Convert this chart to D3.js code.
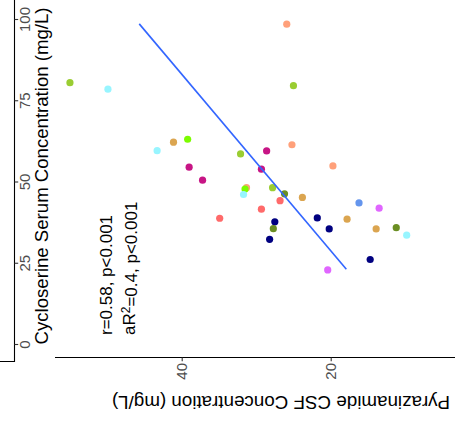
<!DOCTYPE html>
<html><head><meta charset="utf-8">
<script src="https://cdn.jsdelivr.net/npm/d3@7"></script>
<style>body{margin:0;background:#fff}svg{display:block}text{font-family:"Liberation Sans",Arial,sans-serif}</style>
</head><body><svg id="c" width="455" height="429"></svg>
<script>
// Pyrazinamide CSF concentration (mg/L)
const pzaCSF = [25.9,25.0,25.2,43.3,41.1,39.2,32.1,28.6,39.0,37.2,29.3,19.7,31.3,31.5,31.7,27.8,26.2,23.8,26.8,29.3,34.9,27.5,27.7,28.2,21.8,20.2,16.2,13.5,17.8,13.9,11.2,9.8,14.7,20.4,55.0,49.9];
// Cycloserine serum concentration (mg/L)
const csSerum = [98.4,79.5,61.3,59.5,62.1,63.0,58.5,59.4,54.4,50.4,53.8,54.8,48.1,47.7,46.0,48.1,46.2,45.1,44.1,41.5,38.7,37.6,35.5,32.2,38.8,35.4,43.4,41.8,38.4,35.4,35.8,33.5,26.0,22.8,80.4,78.4];
const pointColors = ["#FFA07A","#9ACD32","#FFA07A","#98F5FF","#DBA550","#7CFC00","#9ACD32","#C71585","#C71585","#C71585","#C71585","#FFA07A","#FFA07A","#7CFC00","#98F5FF","#9ACD32","#6B8E23","#DBA550","#FF6A6A","#FF6A6A","#FF6A6A","#000080","#6B8E23","#000080","#000080","#000080","#6495ED","#E066FF","#DBA550","#DBA550","#6B8E23","#98F5FF","#000080","#E066FF","#9ACD32","#98F5FF"];
const fitX = [45.7, 17.9];
const fitY = [98.5, 23.0];
const xTicks = [20, 40];
const yTicks = [0, 25, 50, 75, 100];
const annot1 = "r=0.58, p<0.001";

const svg = d3.select("#c");
const x = d3.scaleLinear().domain([20, 40]).range([330.7, 181.7]);
const y = d3.scaleLinear().domain([0, 100]).range([344, 19]);

// axis lines
svg.append("path").attr("d","M14.5,0V361.5H0").attr("fill","none").attr("stroke","#000").attr("stroke-width",1.1);
svg.append("path").attr("d","M55,357.5H455").attr("fill","none").attr("stroke","#000").attr("stroke-width",1.1);

// y axis
const ya = svg.append("g").attr("transform","translate(14.5,0)")
  .call(d3.axisRight(y).tickValues(yTicks).tickSize(3.7).tickFormat(d3.format("d")));
ya.select(".domain").remove();
ya.selectAll(".tick line").attr("stroke","#333").attr("stroke-width",1.1);
ya.selectAll(".tick text").attr("x",0).attr("y",0).attr("dy",0)
  .attr("transform","translate(15,0) rotate(-90)").attr("text-anchor","middle")
  .attr("fill","#4D4D4D").style("font-size","15px").style("font-family","Liberation Sans, Arial, sans-serif");

// x axis
const xa = svg.append("g").attr("transform","translate(0,357.5)")
  .call(d3.axisBottom(x).tickValues(xTicks).tickSize(3.7).tickFormat(d3.format("d")));
xa.select(".domain").remove();
xa.selectAll(".tick line").attr("stroke","#333").attr("stroke-width",1.1);
xa.selectAll(".tick text").attr("x",0).attr("y",0).attr("dy","0.35em")
  .attr("transform","translate(0,5.5) rotate(-90)").attr("text-anchor","end")
  .attr("fill","#4D4D4D").style("font-size","15px").style("font-family","Liberation Sans, Arial, sans-serif");

// points
svg.append("g").selectAll("circle").data(pzaCSF).join("circle")
  .attr("cx",(d)=>x(d)).attr("cy",(d,i)=>y(csSerum[i])).attr("r",3.6)
  .attr("fill",(d,i)=>pointColors[i]);

// fit line
svg.append("line").attr("x1",x(fitX[0])).attr("y1",y(fitY[0])).attr("x2",x(fitX[1])).attr("y2",y(fitY[1]))
  .attr("stroke","#3366FF").attr("stroke-width",1.6);

// titles
svg.append("text").attr("transform","translate(48,176) rotate(-90)").attr("text-anchor","middle")
  .style("font-size","18.6px").text("Cycloserine Serum Concentration (mg/L)");
svg.append("text").attr("transform","translate(281,395.5) rotate(180)").attr("text-anchor","middle")
  .style("font-size","18.8px").text("Pyrazinamide CSF Concentration (mg/L)");

// annotation
svg.append("text").attr("transform","translate(112,335) rotate(-90)").attr("text-anchor","start")
  .style("font-size","17px").text(annot1);
const t2 = svg.append("text").attr("transform","translate(135,335) rotate(-90)").attr("text-anchor","start")
  .style("font-size","17px");
t2.append("tspan").text("aR");
t2.append("tspan").attr("dy","-0.45em").style("font-size","12px").text("2");
t2.append("tspan").attr("dy","0.45em").text("=0.4, p<0.001");
</script></body></html>
